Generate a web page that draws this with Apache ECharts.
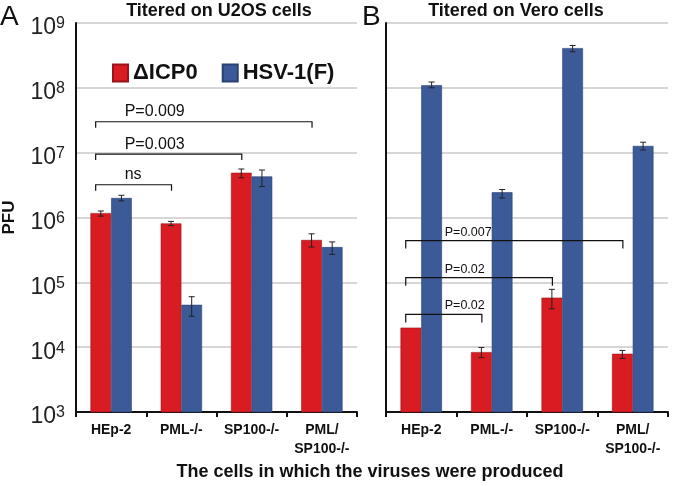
<!DOCTYPE html>
<html>
<head>
<meta charset="utf-8">
<script src="https://cdn.jsdelivr.net/npm/echarts@6/dist/echarts.min.js"></script>
<style>
  html, body { margin: 0; padding: 0; background: #fff; }
  #chart { width: 677px; height: 486px; }
</style>
</head>
<body>
<div id="chart"></div>
<script>
var categories = ['HEp-2', 'PML-/-', 'SP100-/-', 'PML/\nSP100-/-'];
var seriesNames = ['ΔICP0', 'HSV-1(F)'];

// Panel A: titered on U2OS cells
var u2osIcp0 = [1.17e6, 8.1e5, 4.9e6, 4.5e5];
var u2osIcp0Err = [[1.05e6, 1.26e6], [7.5e5, 8.7e5], [4.1e6, 5.6e6], [3.5e5, 5.6e5]];
var u2osWt = [2.0e6, 4.5e4, 4.3e6, 3.5e5];
var u2osWtErr = [[1.8e6, 2.2e6], [3.0e4, 6.0e4], [3.0e6, 5.4e6], [2.7e5, 4.2e5]];

// Panel B: titered on Vero cells
var veroIcp0 = [2.0e4, 8.4e3, 5.8e4, 7.9e3];
var veroIcp0Err = [null, [6.9e3, 9.9e3], [3.9e4, 7.8e4], [6.7e3, 8.9e3]];
var veroWt = [1.1e8, 2.45e6, 4.1e8, 1.27e7];
var veroWtErr = [[1.0e8, 1.23e8], [2.0e6, 2.7e6], [3.6e8, 4.5e8], [1.1e7, 1.45e7]];

// significance brackets: [from category, to category, height]
var u2osBrackets = [[0, 1, 3.2e6], [0, 2, 9.5e6], [0, 3, 3.0e7]];
var u2osBracketLabels = ['ns', 'P=0.003', 'P=0.009'];
var veroBrackets = [[0, 1, 3.2e4], [0, 2, 1.18e5], [0, 3, 4.4e5]];
var veroBracketLabels = ['P=0.02', 'P=0.02', 'P=0.007'];

var red = '#d91b22';
var blue = '#3c5a98';
var font = '"Liberation Sans", Arial, sans-serif';

var chart = echarts.init(document.getElementById('chart'));

function errData(err) {
  var out = [];
  err.forEach(function(e, i) { if (e) out.push([i, e[0], e[1]]); });
  return out;
}

function errSeries(idx, err, sign) {
  return {
    type: 'custom',
    xAxisIndex: idx, yAxisIndex: idx,
    z: 5,
    encode: { x: 0, y: [1, 2] },
    data: errData(err),
    renderItem: function(params, api) {
      var band = api.size([1, 0])[0];
      var lo = api.coord([api.value(0), api.value(1)]);
      var hi = api.coord([api.value(0), api.value(2)]);
      var x = lo[0] + sign * band * 0.147;
      var st = { stroke: '#222', lineWidth: 1 };
      return {
        type: 'group',
        children: [
          { type: 'line', shape: { x1: x, y1: lo[1], x2: x, y2: hi[1] }, style: st },
          { type: 'line', shape: { x1: x - 3, y1: lo[1], x2: x + 3, y2: lo[1] }, style: st },
          { type: 'line', shape: { x1: x - 3, y1: hi[1], x2: x + 3, y2: hi[1] }, style: st }
        ]
      };
    }
  };
}

function bracketSeries(idx, data, labels, fontSize, textOff, tick) {
  return {
    type: 'custom',
    xAxisIndex: idx, yAxisIndex: idx,
    z: 6,
    encode: { x: [0, 1], y: 2 },
    data: data,
    renderItem: function(params, api) {
      var band = api.size([1, 0])[0];
      var s = api.coord([api.value(0), api.value(2)]);
      var e = api.coord([api.value(1), api.value(2)]);
      var x1 = s[0] - band * 0.22, x2 = e[0] - band * 0.14, y = s[1];
      return {
        type: 'group',
        children: [
          { type: 'polyline',
            shape: { points: [[x1, y + tick], [x1, y], [x2, y], [x2, y + tick]] },
            style: { stroke: '#111', lineWidth: 1.2, fill: null } },
          { type: 'text',
            style: { text: labels[params.dataIndex], x: x1 + textOff, y: y - 2,
              verticalAlign: 'bottom', fontSize: fontSize, fontFamily: font, fill: '#111' } }
        ]
      };
    }
  };
}

function barSeries(idx, name, values, color, border) {
  return {
    type: 'bar', name: name,
    xAxisIndex: idx, yAxisIndex: idx,
    data: values,
    barWidth: '29.4%', barGap: '0%',
    itemStyle: { color: color, borderColor: border, borderWidth: 0.6 }
  };
}

function xAxis(idx) {
  return {
    type: 'category', gridIndex: idx, data: categories,
    axisLine: { lineStyle: { color: '#111', width: 2 } },
    axisTick: { show: true, length: 5, lineStyle: { color: '#111', width: 2 } },
    axisLabel: { color: '#111', fontWeight: 'bold', fontSize: 14, fontFamily: font,
      margin: 9, lineHeight: 19, interval: 0 }
  };
}

function yAxis(idx, showLabels) {
  return {
    type: 'log', logBase: 10, gridIndex: idx, min: 1e3, max: 1e9, splitNumber: 6,
    name: showLabels ? 'PFU' : '', nameLocation: 'middle', nameGap: 58,
    nameTextStyle: { fontWeight: 'bold', fontSize: 17, fontFamily: font, color: '#111' },
    axisLine: { show: true, lineStyle: { color: '#111', width: 2 } },
    axisTick: { show: false },
    splitLine: { lineStyle: { color: '#c9c9c9', width: 1.5 } },
    axisLabel: {
      show: showLabels, margin: 11,
      formatter: function(v) { return '{b|10}{s|' + Math.round(Math.log10(v)) + '}'; },
      rich: {
        b: { fontSize: 23, fontFamily: font, color: '#222', lineHeight: 20, padding: [10, 0, 0, 0] },
        s: { fontSize: 16, fontFamily: font, color: '#222', lineHeight: 16, padding: [3, 0, 0, 0], verticalAlign: 'top' }
      }
    }
  };
}

chart.setOption({
  animation: false,
  textStyle: { fontFamily: font },
  grid: [
    { left: 75, top: 23, width: 282, height: 389 },
    { left: 386, top: 23, width: 282, height: 389 }
  ],
  legend: {
    data: seriesNames, left: 107, top: 57, icon: 'rect',
    itemWidth: 15, itemHeight: 17, itemGap: 24,
    textStyle: { fontSize: 22, fontWeight: 'bold', fontFamily: font, color: '#111' }
  },
  xAxis: [xAxis(0), xAxis(1)],
  yAxis: [yAxis(0, true), yAxis(1, false)],
  graphic: [
    { type: 'text', left: 0, top: 3, style: { text: 'A', fontSize: 28, fontFamily: font, fill: '#111' } },
    { type: 'text', left: 362, top: 3, style: { text: 'B', fontSize: 28, fontFamily: font, fill: '#111' } },
    { type: 'text', x: 219, y: 11, style: { text: 'Titered on U2OS cells', align: 'center', verticalAlign: 'middle',
      fontSize: 18, fontWeight: 'bold', fontFamily: font, fill: '#111' } },
    { type: 'text', x: 516, y: 11, style: { text: 'Titered on Vero cells', align: 'center', verticalAlign: 'middle',
      fontSize: 18, fontWeight: 'bold', fontFamily: font, fill: '#111' } },
    { type: 'text', x: 370, y: 472, style: { text: 'The cells in which the viruses were produced', align: 'center',
      verticalAlign: 'middle', fontSize: 18, fontWeight: 'bold', fontFamily: font, fill: '#111' } }
  ],
  series: [
    barSeries(0, seriesNames[0], u2osIcp0, red, '#9c1419'),
    barSeries(0, seriesNames[1], u2osWt, blue, '#2a4173'),
    barSeries(1, seriesNames[0], veroIcp0, red, '#9c1419'),
    barSeries(1, seriesNames[1], veroWt, blue, '#2a4173'),
    errSeries(0, u2osIcp0Err, -1),
    errSeries(0, u2osWtErr, 1),
    errSeries(1, veroIcp0Err, -1),
    errSeries(1, veroWtErr, 1),
    bracketSeries(0, u2osBrackets, u2osBracketLabels, 16, 29, 6),
    bracketSeries(1, veroBrackets, veroBracketLabels, 12.5, 39, 8)
  ]
});
</script>
</body>
</html>
